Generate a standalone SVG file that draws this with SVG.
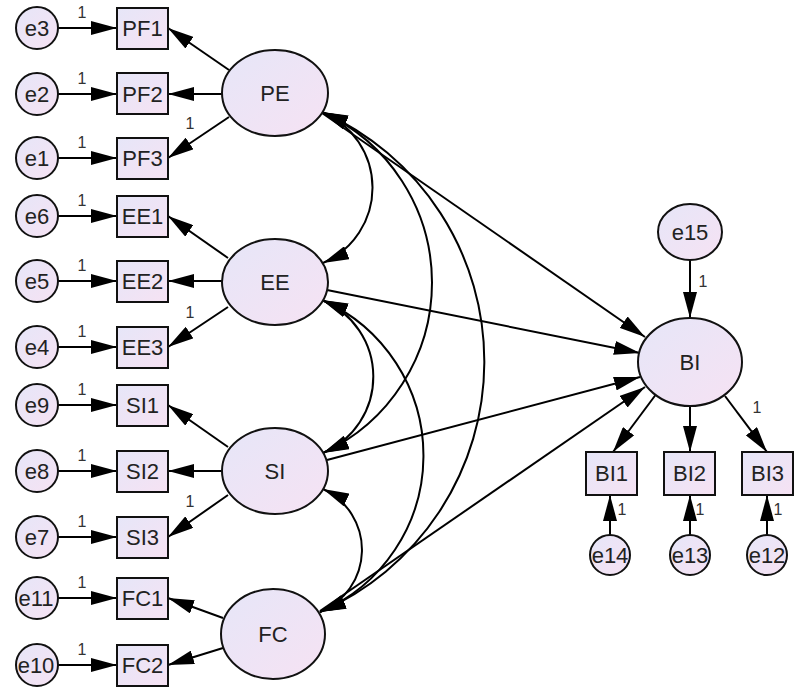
<svg xmlns="http://www.w3.org/2000/svg" width="800" height="690" viewBox="0 0 800 690">
<defs>
<linearGradient id="fillg" x1="0" y1="0" x2="1" y2="1">
<stop offset="0" stop-color="#e6e6f8"/>
<stop offset="1" stop-color="#f6e2f3"/>
</linearGradient>
<marker id="ah" viewBox="0 0 26 14" refX="26" refY="7" markerWidth="26" markerHeight="14" markerUnits="userSpaceOnUse" orient="auto-start-reverse">
<path d="M0,0 L26,7 L0,14 z" fill="#000"/>
</marker>
</defs>
<style>
.shape{fill:url(#fillg);stroke:#111;stroke-width:2}
.lbl{font-family:"Liberation Sans",Arial,sans-serif;font-size:22px;fill:#222;text-anchor:middle}
.err{font-family:"Liberation Sans",Arial,sans-serif;font-size:22px;fill:#222;text-anchor:middle}
.one{font-family:"Liberation Sans",Arial,sans-serif;font-size:16px;fill:#333;text-anchor:middle}
.c{fill:none;stroke:#000;stroke-width:2;marker-end:url(#ah)}
.cov{fill:none;stroke:#000;stroke-width:2;marker-start:url(#ah);marker-end:url(#ah)}
</style>
<rect width="800" height="690" fill="#fff"/>
<g id="connectors">
<line class="c" x1="58" y1="28" x2="117" y2="28"/>
<line class="c" x1="58" y1="94" x2="117" y2="94"/>
<line class="c" x1="58" y1="158" x2="117" y2="158"/>
<line class="c" x1="58" y1="216" x2="117" y2="216"/>
<line class="c" x1="58" y1="281" x2="117" y2="281"/>
<line class="c" x1="58" y1="347" x2="117" y2="347"/>
<line class="c" x1="58" y1="405" x2="117" y2="405"/>
<line class="c" x1="58" y1="471" x2="117" y2="471"/>
<line class="c" x1="58" y1="537" x2="117" y2="537"/>
<line class="c" x1="58" y1="598" x2="117" y2="598"/>
<line class="c" x1="58" y1="665" x2="117" y2="665"/>
<line class="c" x1="229" y1="70" x2="168" y2="28"/>
<line class="c" x1="222" y1="94" x2="168" y2="94"/>
<line class="c" x1="229" y1="117" x2="168" y2="158"/>
<line class="c" x1="228" y1="258" x2="168" y2="216"/>
<line class="c" x1="222" y1="281" x2="168" y2="281"/>
<line class="c" x1="228" y1="307" x2="168" y2="347"/>
<line class="c" x1="228" y1="447" x2="168" y2="405"/>
<line class="c" x1="222" y1="471" x2="168" y2="471"/>
<line class="c" x1="228" y1="495" x2="168" y2="537"/>
<line class="c" x1="223" y1="618" x2="168" y2="598"/>
<line class="c" x1="223" y1="648" x2="168" y2="665"/>
<path class="cov" d="M322,112 A82,82 0 0 1 323,263"/>
<path class="cov" d="M322,112 A187.5,187.5 0 0 1 323,453"/>
<path class="cov" d="M322,112 A273,273 0 0 1 320,612"/>
<path class="cov" d="M322,300 A83,83 0 0 1 323,453"/>
<path class="cov" d="M322,300 A170,170 0 0 1 320,612"/>
<path class="cov" d="M323,489 A67,67 0 0 1 320,612"/>
<line class="c" x1="322" y1="113" x2="645" y2="337"/>
<line class="c" x1="327" y1="290" x2="640" y2="353"/>
<line class="c" x1="327" y1="460" x2="640" y2="377"/>
<line class="c" x1="320" y1="611" x2="645" y2="387"/>
<line class="c" x1="690" y1="260" x2="690" y2="318"/>
<line class="c" x1="657" y1="393" x2="613" y2="452"/>
<line class="c" x1="690" y1="406" x2="690" y2="452"/>
<line class="c" x1="725" y1="396" x2="767" y2="452"/>
<line class="c" x1="610" y1="535" x2="610" y2="495"/>
<line class="c" x1="690" y1="535" x2="690" y2="495"/>
<line class="c" x1="767" y1="535" x2="767" y2="495"/>
<text class="one" x="82" y="18">1</text>
<text class="one" x="82" y="84">1</text>
<text class="one" x="82" y="148">1</text>
<text class="one" x="82" y="206">1</text>
<text class="one" x="82" y="271">1</text>
<text class="one" x="82" y="337">1</text>
<text class="one" x="82" y="395">1</text>
<text class="one" x="82" y="461">1</text>
<text class="one" x="82" y="527">1</text>
<text class="one" x="82" y="588">1</text>
<text class="one" x="82" y="655">1</text>
<text class="one" x="190" y="129">1</text>
<text class="one" x="190" y="318">1</text>
<text class="one" x="190" y="507">1</text>
<text class="one" x="703" y="287">1</text>
<text class="one" x="757" y="413">1</text>
<text class="one" x="622" y="515">1</text>
<text class="one" x="700" y="515">1</text>
<text class="one" x="778" y="515">1</text>
</g>
<g id="e3"><circle class="shape" cx="37" cy="28" r="21"/><text class="err" x="37" y="36">e3</text></g>
<g id="e2"><circle class="shape" cx="37" cy="94" r="21"/><text class="err" x="37" y="102">e2</text></g>
<g id="e1"><circle class="shape" cx="37" cy="158" r="21"/><text class="err" x="37" y="166">e1</text></g>
<g id="e6"><circle class="shape" cx="37" cy="216" r="21"/><text class="err" x="37" y="224">e6</text></g>
<g id="e5"><circle class="shape" cx="37" cy="281" r="21"/><text class="err" x="37" y="289">e5</text></g>
<g id="e4"><circle class="shape" cx="37" cy="347" r="21"/><text class="err" x="37" y="355">e4</text></g>
<g id="e9"><circle class="shape" cx="37" cy="405" r="21"/><text class="err" x="37" y="413">e9</text></g>
<g id="e8"><circle class="shape" cx="37" cy="471" r="21"/><text class="err" x="37" y="479">e8</text></g>
<g id="e7"><circle class="shape" cx="37" cy="537" r="21"/><text class="err" x="37" y="545">e7</text></g>
<g id="e11"><circle class="shape" cx="37" cy="598" r="21"/><text class="err" x="36" y="606">e11</text></g>
<g id="e10"><circle class="shape" cx="37" cy="665" r="21"/><text class="err" x="36" y="673">e10</text></g>
<g id="PF1"><rect class="shape" x="117" y="8" width="51" height="41"/><text class="lbl" x="142.5" y="36">PF1</text></g>
<g id="PF2"><rect class="shape" x="117" y="73" width="51" height="41"/><text class="lbl" x="142.5" y="102">PF2</text></g>
<g id="PF3"><rect class="shape" x="117" y="138" width="51" height="41"/><text class="lbl" x="142.5" y="166">PF3</text></g>
<g id="EE1"><rect class="shape" x="117" y="196" width="51" height="41"/><text class="lbl" x="142.5" y="224">EE1</text></g>
<g id="EE2"><rect class="shape" x="117" y="261" width="51" height="41"/><text class="lbl" x="142.5" y="289">EE2</text></g>
<g id="EE3"><rect class="shape" x="117" y="327" width="51" height="41"/><text class="lbl" x="142.5" y="355">EE3</text></g>
<g id="SI1"><rect class="shape" x="117" y="385" width="51" height="41"/><text class="lbl" x="142.5" y="413">SI1</text></g>
<g id="SI2"><rect class="shape" x="117" y="451" width="51" height="41"/><text class="lbl" x="142.5" y="479">SI2</text></g>
<g id="SI3"><rect class="shape" x="117" y="517" width="51" height="41"/><text class="lbl" x="142.5" y="545">SI3</text></g>
<g id="FC1"><rect class="shape" x="117" y="578" width="51" height="41"/><text class="lbl" x="142.5" y="606">FC1</text></g>
<g id="FC2"><rect class="shape" x="117" y="645" width="51" height="41"/><text class="lbl" x="142.5" y="673">FC2</text></g>
<g id="PE"><ellipse class="shape" cx="275" cy="93" rx="53" ry="43"/><text class="lbl" x="275" y="101">PE</text></g>
<g id="EE"><ellipse class="shape" cx="275" cy="282" rx="53" ry="43"/><text class="lbl" x="275" y="290">EE</text></g>
<g id="SI"><ellipse class="shape" cx="275" cy="471" rx="53" ry="43"/><text class="lbl" x="275" y="479">SI</text></g>
<g id="FC"><ellipse class="shape" cx="273" cy="634" rx="52" ry="45"/><text class="lbl" x="273" y="642">FC</text></g>
<g id="BI"><ellipse class="shape" cx="690" cy="362" rx="52" ry="44"/><text class="lbl" x="690" y="370">BI</text></g>
<g id="e15"><ellipse class="shape" cx="690" cy="232" rx="32" ry="28"/><text class="err" x="690" y="240">e15</text></g>
<g id="BI1"><rect class="shape" x="586" y="452" width="51" height="43"/><text class="lbl" x="611.5" y="481">BI1</text></g>
<g id="BI2"><rect class="shape" x="664" y="452" width="51" height="43"/><text class="lbl" x="689.5" y="481">BI2</text></g>
<g id="BI3"><rect class="shape" x="742" y="452" width="51" height="43"/><text class="lbl" x="767.5" y="481">BI3</text></g>
<g id="e14"><circle class="shape" cx="610" cy="555" r="20"/><text class="err" x="610" y="563">e14</text></g>
<g id="e13"><circle class="shape" cx="690" cy="555" r="20"/><text class="err" x="690" y="563">e13</text></g>
<g id="e12"><circle class="shape" cx="767" cy="555" r="20"/><text class="err" x="767" y="563">e12</text></g>
</svg>
